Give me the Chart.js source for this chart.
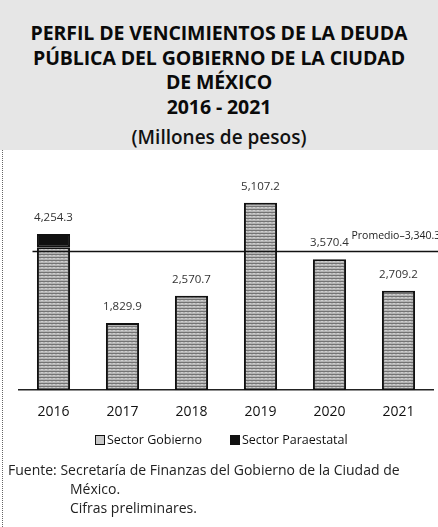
<!DOCTYPE html>
<html lang="es">
<head>
<meta charset="utf-8">
<title>Perfil de vencimientos</title>
<script src="https://cdn.jsdelivr.net/npm/chart.js@4"></script>
<style>
  html, body { margin: 0; padding: 0; background: #fff; }
  body { width: 438px; height: 527px; position: relative; overflow: hidden; font-family: "Open Sans", "Noto Sans", sans-serif; color: #111; }
  #cabecera { position: absolute; left: 0; top: 0; width: 438px; height: 150px; background: #e6e6e6; text-align: center; }
  #cabecera .t { font-weight: 700; font-size: 19.5px; line-height: 24px; letter-spacing: -0.1px; color: #0a0a0a; }
  #l1 { position: absolute; left: 0; right: 0; top: 21px; }
  #l2 { position: absolute; left: 0; right: 0; top: 46px; }
  #l3 { position: absolute; left: 0; right: 0; top: 70px; }
  #l4 { position: absolute; left: 0; right: 0; top: 95px; }
  #l5 { position: absolute; left: 0; right: 0; top: 125px; font-size: 19px; line-height: 24px; font-weight: 600; }
  #borde { position: absolute; left: 2px; top: 150px; height: 377px; border-left: 1px dotted #666; }
  #grafica { position: absolute; left: 0; top: 160px; width: 438px; height: 273px; }
  #leyenda { position: absolute; top: 431px; left: 0; height: 18px; font-size: 12.5px; line-height: 18px; color: #111; }
  #leyenda span.item { position: absolute; top: 0; white-space: nowrap; }
  #leyenda span.caja { display: inline-block; width: 8px; height: 8px; border: 1.5px solid #111; margin-right: 2px; vertical-align: -1px; }
  #fuente { position: absolute; left: 8px; top: 460px; font-size: 14px; line-height: 19px; color: #222; }
  #fuente div { white-space: nowrap; }
</style>
</head>
<body>
<div id="cabecera">
  <div id="l1" class="t">PERFIL DE VENCIMIENTOS DE LA DEUDA</div>
  <div id="l2" class="t">PÚBLICA DEL GOBIERNO DE LA CIUDAD</div>
  <div id="l3" class="t">DE MÉXICO</div>
  <div id="l4" class="t">2016 - 2021</div>
  <div id="l5">(Millones de pesos)</div>
</div>
<div id="borde"></div>
<div id="grafica"><canvas id="c"></canvas></div>
<div id="leyenda"></div>
<div id="fuente">
  <div>Fuente: Secretaría de Finanzas del Gobierno de la Ciudad de</div>
  <div style="padding-left:62px">México.</div>
  <div style="padding-left:62px">Cifras preliminares.</div>
</div>
<script>
// datos
const anios = ['2016', '2017', '2018', '2019', '2020', '2021'];
const sectorGobierno = [3894.3, 1829.9, 2570.7, 5107.2, 3570.4, 2709.2];
const sectorParaestatal = [360.0, 0, 0, 0, 0, 0];
const totales = [4254.3, 1829.9, 2570.7, 5107.2, 3570.4, 2709.2];
const promedio = 3340.3;
// en el original la línea está dibujada más arriba que su valor
const promedioLinea = 3800;

// relleno rayado de las barras
function rayado() {
    const c = document.createElement('canvas');
    c.width = 4; c.height = 3;
    const g = c.getContext('2d');
    g.fillStyle = '#b4b4b4';
    g.fillRect(0, 0, 4, 3);
    g.fillStyle = '#737373';
    g.fillRect(0, 1, 4, 1);
    g.fillStyle = '#cfcfcf';
    g.fillRect(1, 2, 2, 1);
    return g.createPattern(c, 'repeat');
}

const fmt = v => v.toLocaleString('en-US', { minimumFractionDigits: 1, maximumFractionDigits: 1 });

// etiquetas de valor y línea de promedio
const extras = {
    id: 'extras',
    afterDatasetsDraw(chart) {
        const ctx = chart.ctx;
        const y = chart.scales.y;
        const x = chart.scales.x;
        ctx.save();
        ctx.font = '11.5px "Open Sans", sans-serif';
        ctx.fillStyle = '#333';
        ctx.textAlign = 'center';
        ctx.textBaseline = 'middle';
        totales.forEach((v, i) => {
            ctx.fillText(fmt(v), x.getPixelForValue(i), y.getPixelForValue(v) - 16);
        });
        const yp = Math.round(y.getPixelForValue(promedioLinea)) + 0.5;
        ctx.strokeStyle = '#111';
        ctx.lineWidth = 1.5;
        ctx.beginPath();
        ctx.moveTo(x.getPixelForValue(0) - 21, yp);
        ctx.lineTo(chart.width, yp);
        ctx.stroke();
        ctx.font = '10.5px "Open Sans", sans-serif';
        ctx.textAlign = 'left';
        ctx.fillStyle = '#222';
        ctx.fillText('Promedio–' + fmt(promedio), x.getPixelForValue(4) + 22, yp - 15);
        ctx.restore();
    }
};

const grafica = new Chart(document.getElementById('c'), {
    type: 'bar',
    data: {
        labels: anios,
        datasets: [
            {
                label: 'Sector Gobierno',
                data: sectorGobierno,
                backgroundColor: rayado(),
                borderColor: '#111',
                borderWidth: 2,
                borderSkipped: false,
                categoryPercentage: 1,
                barPercentage: 0.48
            },
            {
                label: 'Sector Paraestatal',
                data: sectorParaestatal,
                backgroundColor: '#111',
                borderColor: '#111',
                borderWidth: 2,
                borderSkipped: false,
                categoryPercentage: 1,
                barPercentage: 0.48
            }
        ]
    },
    options: {
        responsive: true,
        maintainAspectRatio: false,
        animation: false,
        layout: { padding: { left: 19, right: 5, top: 10, bottom: 0 } },
        scales: {
            x: {
                stacked: true,
                grid: { display: false, drawTicks: false },
                border: { display: true, color: '#222', width: 1.5 },
                ticks: { color: '#111', font: { size: 14, family: '"Open Sans", sans-serif' }, padding: 13 }
            },
            y: {
                stacked: true,
                display: false,
                min: 0,
                max: 6000
            }
        },
        plugins: {
            legend: { display: false },
            tooltip: { enabled: false }
        }
    },
    plugins: [extras]
});

// leyenda en html, sacada de los datasets
const leyenda = document.getElementById('leyenda');
const posLeyenda = [95, 230];
const cajaLeyenda = ['#c8c8c8', '#111'];
grafica.data.datasets.forEach((d, i) => {
    const item = document.createElement('span');
    item.className = 'item';
    item.style.left = posLeyenda[i] + 'px';
    const caja = document.createElement('span');
    caja.className = 'caja';
    caja.style.background = cajaLeyenda[i];
    item.appendChild(caja);
    item.appendChild(document.createTextNode(d.label));
    leyenda.appendChild(item);
});
</script>
</body>
</html>
